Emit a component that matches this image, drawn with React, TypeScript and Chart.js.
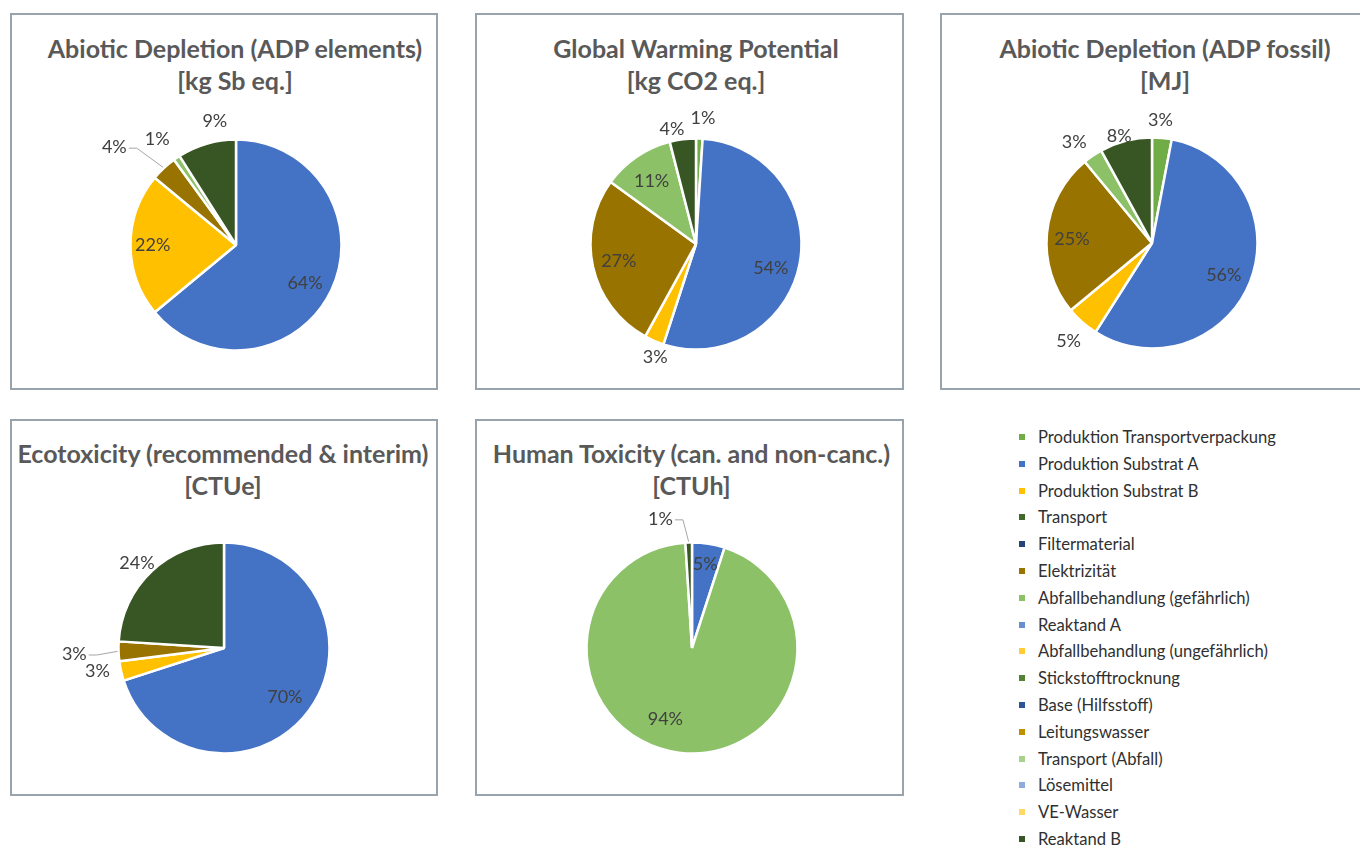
import React, { useEffect, useRef } from "react";
import { Chart, PieController, ArcElement } from "chart.js";

Chart.register(PieController, ArcElement);

// ---------- data ----------
const categories = [
  "Produktion Transportverpackung",
  "Produktion Substrat A",
  "Produktion Substrat B",
  "Transport",
  "Filtermaterial",
  "Elektrizität",
  "Abfallbehandlung (gefährlich)",
  "Reaktand A",
  "Abfallbehandlung (ungefährlich)",
  "Stickstofftrocknung",
  "Base (Hilfsstoff)",
  "Leitungswasser",
  "Transport (Abfall)",
  "Lösemittel",
  "VE-Wasser",
  "Reaktand B",
];

const categoryColors = [
  "#70AD47", "#4472C4", "#FFC000", "#43682B", "#264478", "#997300",
  "#8CC168", "#698ED0", "#FFCD33", "#548235", "#2F5597", "#BF9000",
  "#A9D18E", "#8FAADC", "#FFD966", "#375623",
];

const adpElementsValues = [0, 64, 22, 0, 0, 4, 1, 0, 0, 0, 0, 0, 0, 0, 0, 9];
const gwpValues = [1, 54, 3, 0, 0, 27, 11, 0, 0, 0, 0, 0, 0, 0, 0, 4];
const adpFossilValues = [3, 56, 5, 0, 0, 25, 3, 0, 0, 0, 0, 0, 0, 0, 0, 8];
const ecotoxValues = [0, 70, 3, 0, 0, 3, 0, 0, 0, 0, 0, 0, 0, 0, 0, 24];
const humanToxValues = [0, 5, 0, 0, 0, 0, 94, 0, 0, 0, 0, 0, 0, 0, 0, 1];

const adpElementsTitle = ["Abiotic Depletion (ADP elements)", "[kg Sb eq.]"];
const gwpTitle = ["Global Warming Potential", "[kg CO2 eq.]"];
const adpFossilTitle = ["Abiotic Depletion (ADP fossil)", "[MJ]"];
const ecotoxTitle = ["Ecotoxicity (recommended & interim)", "[CTUe]"];
const humanToxTitle = ["Human Toxicity (can. and non-canc.)", "[CTUh]"];

// ---------- label placement (style) ----------
type Spec = { f: number; da?: number; line?: boolean };
type Specs = Record<number, Spec>;

const adpElementsLabels: Specs = {
  1: { f: 0.75, da: 4 },
  2: { f: 0.79, da: 0 },
  5: { f: 1.48, da: -8, line: true },
  6: { f: 1.25, da: -2.5 },
  15: { f: 1.19, da: 6.5 },
};
const gwpLabels: Specs = {
  0: { f: 1.19, da: 1.4 },
  1: { f: 0.745, da: 7 },
  2: { f: 1.14, da: -3.6 },
  5: { f: 0.75, da: 0 },
  6: { f: 0.73, da: -1 },
  15: { f: 1.11, da: -4.6 },
};
const adpFossilLabels: Specs = {
  0: { f: 1.17, da: -1.5 },
  1: { f: 0.745, da: 2.4 },
  2: { f: 1.22, da: -1 },
  5: { f: 0.76, da: -2.6 },
  6: { f: 1.21, da: -3.3 },
  15: { f: 1.06, da: -2.6 },
};
const ecotoxLabels: Specs = {
  1: { f: 0.74, da: 2.8 },
  2: { f: 1.22, da: 2.2 },
  5: { f: 1.42, da: -0.5, line: true },
  15: { f: 1.15, da: -2.6 },
};
const humanToxLabels: Specs = {
  1: { f: 0.8, da: 0 },
  6: { f: 0.72, da: 13.3 },
  15: { f: 1.26, da: -11.9, line: true },
};

const pctLabelsPlugin = {
  id: "pctLabels",
  afterDatasetsDraw(chart: any, _args: any, opts: any) {
    const ctx = chart.ctx as CanvasRenderingContext2D;
    const meta = chart.getDatasetMeta(0);
    const data = chart.data.datasets[0].data as number[];
    const total = data.reduce((a, b) => a + b, 0);
    const specs: Specs = opts.specs || {};
    ctx.save();
    ctx.font = "18px Lato";
    ctx.textAlign = "center";
    ctx.textBaseline = "middle";
    meta.data.forEach((arc: any, i: number) => {
      const v = data[i];
      if (!v) return;
      const spec = specs[i] || { f: 0.75 };
      const p = arc.getProps(["x", "y", "startAngle", "endAngle", "outerRadius"], true);
      const mid = (p.startAngle + p.endAngle) / 2;
      const a = mid + ((spec.da || 0) * Math.PI) / 180;
      const lx = p.x + Math.cos(a) * p.outerRadius * spec.f;
      const ly = p.y + Math.sin(a) * p.outerRadius * spec.f;
      const text = Math.round((v / total) * 100) + "%";
      if (spec.line) {
        const ex = p.x + Math.cos(mid) * (p.outerRadius + 1);
        const ey = p.y + Math.sin(mid) * (p.outerRadius + 1);
        const hw = ctx.measureText(text).width / 2 + 2;
        const dir = ex > lx ? 1 : -1;
        const sx = lx + dir * hw;
        const elbowX = sx + dir * 8;
        ctx.strokeStyle = "#A6A6A6";
        ctx.lineWidth = 1;
        ctx.beginPath();
        ctx.moveTo(sx, ly + 1);
        ctx.lineTo(elbowX, ly + 1);
        ctx.lineTo(ex, ey);
        ctx.stroke();
      }
      ctx.fillStyle = "#404040";
      ctx.fillText(text, lx, ly);
    });
    ctx.restore();
  },
};

const PIE_RADIUS = 105.5;
const CANVAS = 340;

function PiePanel(props: { values: number[]; specs: Specs; cx: number; cy: number }) {
  const ref = useRef<HTMLCanvasElement | null>(null);
  useEffect(() => {
    if (!ref.current) return;
    const chart = new Chart(ref.current, {
      type: "pie",
      data: {
        labels: categories,
        datasets: [
          {
            data: props.values,
            backgroundColor: categoryColors,
            borderColor: "#FFFFFF",
            borderWidth: 2.5,
            radius: PIE_RADIUS,
          } as any,
        ],
      },
      options: {
        animation: false,
        responsive: false,
        events: [],
        layout: { padding: 0 },
        plugins: {
          legend: { display: false },
          tooltip: { enabled: false },
          pctLabels: { specs: props.specs },
        } as any,
      },
      plugins: [pctLabelsPlugin as any],
    });
    return () => chart.destroy();
  }, []);
  return (
    <canvas
      ref={ref}
      width={CANVAS}
      height={CANVAS}
      style={{
        position: "absolute",
        left: props.cx - CANVAS / 2,
        top: props.cy - CANVAS / 2,
        width: CANVAS,
        height: CANVAS,
      }}
    />
  );
}

function Box(props: { left: number; top: number; width: number; height: number }) {
  return (
    <div
      style={{
        position: "absolute",
        left: props.left,
        top: props.top,
        width: props.width,
        height: props.height,
        boxSizing: "border-box",
        border: "2px solid #97A3AD",
        background: "#FFFFFF",
      }}
    />
  );
}

function Title(props: { lines: string[]; cx: number; y: number }) {
  return (
    <div
      style={{
        position: "absolute",
        left: props.cx - 260,
        top: props.y - 16,
        width: 520,
        textAlign: "center",
        fontFamily: "Lato, 'Open Sans', sans-serif",
        fontWeight: 700,
        fontSize: 25,
        lineHeight: "32px",
        color: "#595959",
      }}
    >
      {props.lines.map((l, i) => (
        <div key={i}>{l}</div>
      ))}
    </div>
  );
}

function Legend() {
  return (
    <>
      {categories.map((c, i) => {
        const y = 437 + i * 26.8;
        return (
          <div key={c}>
            <div
              style={{
                position: "absolute",
                left: 1019,
                top: y - 3,
                width: 6,
                height: 6,
                background: categoryColors[i],
              }}
            />
            <div
              style={{
                position: "absolute",
                left: 1038,
                top: y - 10,
                height: 20,
                lineHeight: "20px",
                fontFamily: "Lato, 'Open Sans', sans-serif",
                fontSize: 16.6,
                color: "#303030",
                whiteSpace: "nowrap",
              }}
            >
              {c}
            </div>
          </div>
        );
      })}
    </>
  );
}

export default function App() {
  return (
    <div
      style={{
        position: "fixed",
        left: 0,
        top: 0,
        width: 1360,
        height: 848,
        overflow: "hidden",
        background: "#FFFFFF",
      }}
    >
      <Box left={10} top={13} width={428} height={377} />
      <Box left={475} top={13} width={429} height={377} />
      <Box left={940} top={13} width={440} height={377} />
      <Box left={10} top={419} width={428} height={377} />
      <Box left={475} top={419} width={429} height={377} />

      <Title lines={adpElementsTitle} cx={235} y={48} />
      <Title lines={gwpTitle} cx={696} y={48} />
      <Title lines={adpFossilTitle} cx={1165} y={48} />
      <Title lines={ecotoxTitle} cx={223} y={453} />
      <Title lines={humanToxTitle} cx={691.5} y={453} />

      <PiePanel values={adpElementsValues} specs={adpElementsLabels} cx={236} cy={244.5} />
      <PiePanel values={gwpValues} specs={gwpLabels} cx={696} cy={244} />
      <PiePanel values={adpFossilValues} specs={adpFossilLabels} cx={1151.5} cy={242.5} />
      <PiePanel values={ecotoxValues} specs={ecotoxLabels} cx={224} cy={647.5} />
      <PiePanel values={humanToxValues} specs={humanToxLabels} cx={691.5} cy={647.5} />

      <Legend />
    </div>
  );
}
